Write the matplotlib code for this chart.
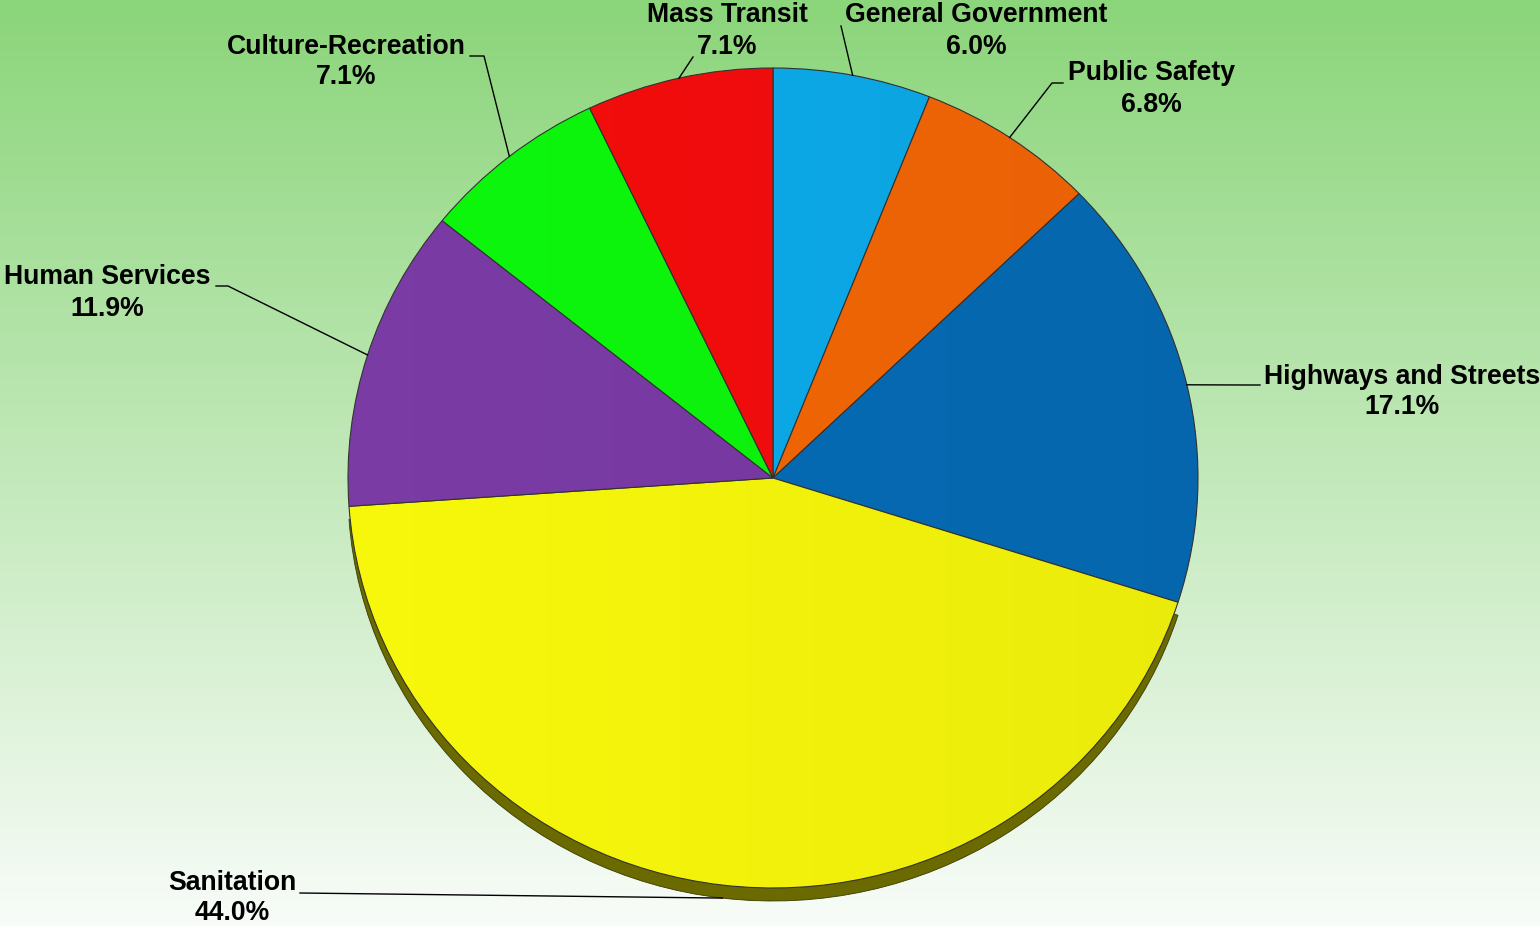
import numpy as np
import matplotlib
matplotlib.use("Agg")
import matplotlib.pyplot as plt
from matplotlib.colors import to_rgb

plt.rcParams['font.family'] = ['Liberation Sans', 'DejaVu Sans']

# Data, clockwise from 12 o'clock
labels = ['General Government', 'Public Safety', 'Highways and Streets',
          'Sanitation', 'Human Services', 'Culture-Recreation', 'Mass Transit']
shares = [6.0, 6.8, 17.1, 44.0, 11.9, 7.1, 7.1]
colors = ['#0CABEA', '#F46706', '#066CB6', '#F7F70C', '#7A3BA5', '#0DF70D', '#F50D0D']

W, H = 1540, 926
CX, CY = 773, 478      # pie centre in pixels
RX, RY = 425, 410      # pie radii in pixels
DEPTH = 13             # thickness of the 3D edge

fig = plt.figure(figsize=(W / 100, H / 100), dpi=100)

# background gradient
bg = fig.add_axes([0, 0, 1, 1], zorder=0)
top = np.array(to_rgb('#8BD57A'))
bot = np.array(to_rgb('#F8FCF8'))
t = np.linspace(0, 1, 256)[:, None, None]
grad = top * (1 - t) + bot * t
bg.imshow(np.repeat(grad, 2, axis=1), aspect='auto', extent=[0, 1, 0, 1], origin='upper')
bg.set_axis_off()

# pie axes: 1 data unit = RX px horizontally, RY px vertically
ax = fig.add_axes([0, 0, 1, 1], zorder=1)
ax.patch.set_alpha(0)

# dark side of the pie (only the big bottom slice shows it)
side_colors = ['none' if lab != 'Sanitation' else '#6A6A00' for lab in labels]
side, _ = ax.pie(shares, startangle=90, counterclock=False, radius=1,
                 center=(0, -DEPTH / RY), colors=side_colors, frame=True)
for w, sc in zip(side, side_colors):
    if sc != 'none':
        w.set_edgecolor('#3a3a00')
        w.set_linewidth(0.6)
wedges, _ = ax.pie(shares, startangle=90, counterclock=False, radius=1,
                   center=(0, 0), colors=colors,
                   wedgeprops=dict(linewidth=0.8, edgecolor='#333333'), frame=True)
ax.set_xlim(-CX / RX, (W - CX) / RX)
ax.set_ylim(-(H - CY) / RY, CY / RY)
ax.set_aspect('auto')
ax.set_axis_off()

# soft horizontal shading on each slice
shade = np.zeros((2, 256, 4))
shade[..., 3] = np.linspace(0.0, 0.05, 256)[None, :]
for w in wedges:
    im = ax.imshow(shade, extent=[-1, 1, -1, 1], aspect='auto', zorder=w.get_zorder() + 0.1)
    im.set_clip_path(w)
ax.set_xlim(-CX / RX, (W - CX) / RX)
ax.set_ylim(-(H - CY) / RY, CY / RY)

# overlay in pixel coordinates for labels and leaders
ov = fig.add_axes([0, 0, 1, 1], zorder=2)
ov.set_xlim(0, W)
ov.set_ylim(H, 0)
ov.set_axis_off()
ov.patch.set_alpha(0)

# label text centre and leader elbow (pixels)
text_pos = [(976, 31), (1151, 89), (1402, 392), (232, 898), (107, 293), (346, 62), (727, 31)]
elbows = [[(841, 26)],
          [(1052, 83), (1063, 83)],
          [(1247, 385), (1260, 385)],
          [(300, 893)],
          [(228, 286), (216, 286)],
          [(484, 56), (470, 56)],
          [(693, 57)]]

cum = np.cumsum([0] + shares[:-1])
for lab, s, c0, tp, elb in zip(labels, shares, cum, text_pos, elbows):
    ang = np.deg2rad(90 - (c0 + s / 2) * 3.6)
    px = CX + RX * np.cos(ang)
    py = CY - RY * np.sin(ang)
    if np.sin(ang) < -0.9:
        py += DEPTH
    xs = [px] + [e[0] for e in elb]
    ys = [py] + [e[1] for e in elb]
    ov.plot(xs, ys, color='black', lw=1.0)
    ov.text(tp[0], tp[1], f'{lab}\n{s:.1f}%', ha='center', va='center',
            fontsize=19.2, fontweight='bold', linespacing=1.25)

fig.savefig('out.png', dpi=100)
